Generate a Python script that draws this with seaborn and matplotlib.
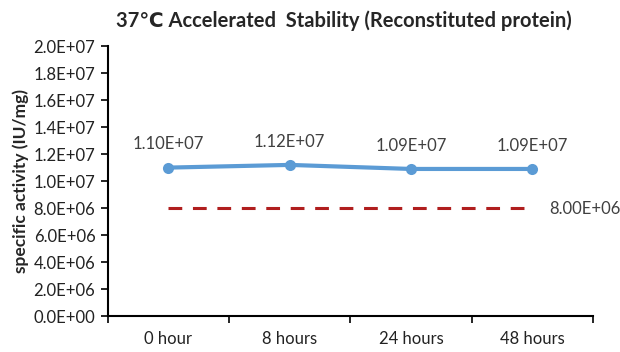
import matplotlib
matplotlib.use("Agg")
import matplotlib.pyplot as plt
import seaborn as sns
import pandas as pd
import numpy as np
from matplotlib.ticker import FuncFormatter, FixedLocator

categories = ["0 hour", "8 hours", "24 hours", "48 hours"]
activity = [1.10e7, 1.12e7, 1.09e7, 1.09e7]
activity_labels = ["1.10E+07", "1.12E+07", "1.09E+07", "1.09E+07"]
spec_limit = [8.0e6, 8.0e6, 8.0e6, 8.0e6]
spec_label = "8.00E+06"
y_ticks = [0, 2e6, 4e6, 6e6, 8e6, 1e7, 1.2e7, 1.4e7, 1.6e7, 1.8e7, 2e7]

sns.set_style("white")
plt.rcParams['font.family'] = ['Lato', 'DejaVu Sans']

df = pd.DataFrame({"time": categories, "activity": activity, "spec": spec_limit})

fig = plt.figure(figsize=(6.2, 3.52), dpi=100)
ax = fig.add_axes([0.174, 0.102, 0.782, 0.767])

sns.lineplot(data=df, x="time", y="spec", ax=ax, color="#B01E1E", linewidth=2.2,
             linestyle=(0, (4.5, 3.5)), sort=False)
sns.lineplot(data=df, x="time", y="activity", ax=ax, color="#5B9BD5", linewidth=3,
             marker="o", markersize=8, markeredgewidth=0, sort=False)

for i, (v, lab) in enumerate(zip(activity, activity_labels)):
    ax.annotate(lab, (i, v), xytext=(0, 11), textcoords="offset points",
                ha="center", va="bottom", fontsize=12, color="#404040")
ax.annotate(spec_label, (len(categories) - 1, spec_limit[-1]), xytext=(12, -1),
            textcoords="offset points", ha="left", va="center", fontsize=12, color="#404040")

ax.set_xlim(-0.5, len(categories) - 0.5)
ax.set_ylim(0, 2e7)
ax.set_yticks(y_ticks)
ax.yaxis.set_major_formatter(FuncFormatter(lambda v, p: f"{v:.1E}"))
ax.set_xticks(range(len(categories)))
ax.set_xticklabels(categories)
ax.xaxis.set_minor_locator(FixedLocator(np.arange(-0.5, len(categories), 1.0)))
ax.tick_params(axis="x", which="major", length=0, pad=11, labelsize=12, colors="black")
ax.tick_params(axis="x", which="minor", length=5, width=1.2, color="black", direction="out", bottom=True)
ax.tick_params(axis="y", which="major", length=5, width=1.2, color="black", direction="out",
               labelsize=12, left=True, pad=4)
for lab in ax.get_xticklabels() + ax.get_yticklabels():
    lab.set_color("#222222")

sns.despine(ax=ax)
for s in ["left", "bottom"]:
    ax.spines[s].set_color("black")
    ax.spines[s].set_linewidth(1.5)

ax.set_xlabel("")
ax.set_ylabel("specific activity (IU/mg)", fontsize=12.5, fontweight="bold", labelpad=3)
fig.suptitle("37\u2103 Accelerated  Stability (Reconstituted protein)", x=0.555, y=0.97,
             fontsize=14.5, fontweight="bold")

fig.savefig("out.png", dpi=100)
